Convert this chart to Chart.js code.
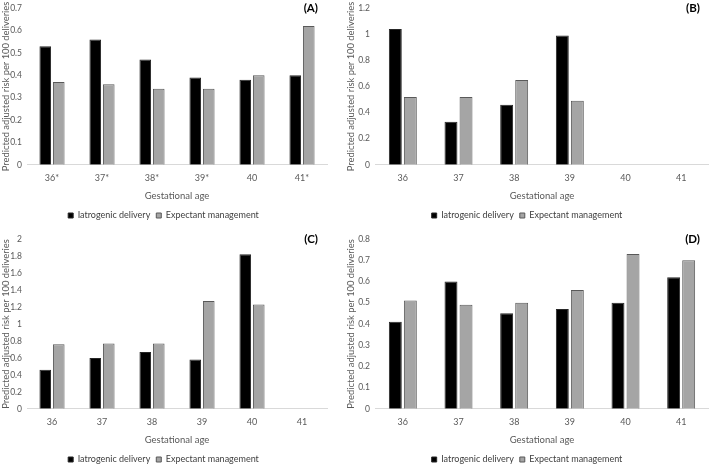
<!DOCTYPE html>
<html>
<head>
<meta charset="utf-8">
<script src="https://cdn.jsdelivr.net/npm/chart.js@4.4.1/dist/chart.umd.min.js"></script>
<style>
  body { margin: 0; background: #fff; overflow: hidden; }
  .panel { position: absolute; }
</style>
</head>
<body>
<div class="panel" style="left:0;top:-2px;width:345px;height:232px"><canvas id="chartA"></canvas></div>
<div class="panel" style="left:345px;top:-2px;width:364px;height:232px"><canvas id="chartB"></canvas></div>
<div class="panel" style="left:0;top:229px;width:345px;height:245px"><canvas id="chartC"></canvas></div>
<div class="panel" style="left:345px;top:229px;width:364px;height:245px"><canvas id="chartD"></canvas></div>
<script>
const labelsA = ["36*", "37*", "38*", "39*", "40", "41*"];
const labelsOther = ["36", "37", "38", "39", "40", "41"];

const iatrogenicA = [0.53, 0.56, 0.47, 0.39, 0.38, 0.40];
const expectantA = [0.37, 0.36, 0.34, 0.34, 0.40, 0.62];

const iatrogenicB = [1.04, 0.33, 0.46, 0.99, null, null];
const expectantB = [0.52, 0.52, 0.65, 0.49, null, null];

const iatrogenicC = [0.46, 0.60, 0.67, 0.58, 1.82, null];
const expectantC = [0.76, 0.77, 0.77, 1.27, 1.23, null];

const iatrogenicD = [0.41, 0.60, 0.45, 0.47, 0.50, 0.62];
const expectantD = [0.51, 0.49, 0.50, 0.56, 0.73, 0.70];

const fontFamily = "Lato, 'Open Sans', sans-serif";
const textColor = "#595959";

// draws the (A)/(B)... tag in the top-right corner
const panelTag = {
  id: "panelTag",
  afterDraw(chart, args, opts) {
    const ctx = chart.ctx;
    ctx.save();
    ctx.font = "bold 11.5px " + fontFamily;
    ctx.fillStyle = "#000";
    ctx.textAlign = "right";
    ctx.textBaseline = "middle";
    ctx.fillText(opts.text, chart.chartArea.right - 9, 10);
    ctx.restore();
  },
};

function plotPanel(id, labels, iatrogenic, expectant, yMax, yStep, tag, axisWidth, padRight) {
  let ctx = document.getElementById(id).getContext("2d");

  new Chart(ctx, {
    type: "bar",
    data: {
      labels: labels,
      datasets: [
        {
          label: "Iatrogenic delivery",
          data: iatrogenic,
          backgroundColor: "#000000",
          borderColor: "#262626",
          borderWidth: 1,
          categoryPercentage: 0.54,
          barPercentage: 0.86,
        },
        {
          label: "Expectant management",
          data: expectant,
          backgroundColor: "#a5a5a5",
          borderColor: "#595959",
          borderWidth: 1,
          categoryPercentage: 0.54,
          barPercentage: 0.86,
        },
      ],
    },
    options: {
      responsive: true,
      maintainAspectRatio: false,
      animation: false,
      layout: {
        padding: { top: 0, right: padRight, bottom: 0, left: 0 },
      },
      plugins: {
        panelTag: { text: tag },
        tooltip: { enabled: false },
        legend: {
          position: "bottom",
          labels: {
            boxWidth: 5,
            boxHeight: 5,
            padding: 6,
            color: "#404040",
            font: { family: fontFamily, size: 9 },
          },
        },
      },
      scales: {
        x: {
          grid: { display: false, drawTicks: false },
          border: { color: "#d9d9d9", width: 1 },
          ticks: {
            color: textColor,
            font: { family: fontFamily, size: 9 },
            padding: 8,
          },
          title: {
            display: true,
            text: "Gestational age",
            color: textColor,
            font: { family: fontFamily, size: 9.5 },
            padding: { top: -1.5, bottom: 3.5 },
          },
        },
        y: {
          min: 0,
          max: yMax,
          grid: { display: false, drawTicks: false },
          border: { display: false },
          ticks: {
            stepSize: yStep,
            color: textColor,
            font: { family: fontFamily, size: 8.5 },
            padding: 5,
            callback: (value) => String(+value.toFixed(2)),
          },
          title: {
            display: true,
            text: "Predicted adjusted risk per 100 deliveries",
            color: textColor,
            font: { family: fontFamily, size: 9.4 },
            padding: 0,
          },
          afterFit: function (scale) {
            scale.width = axisWidth;
          },
        },
      },
    },
    plugins: [panelTag],
  });
}

plotPanel("chartA", labelsA, iatrogenicA, expectantA, 0.7, 0.1, "(A)", 27, 18);
plotPanel("chartB", labelsOther, iatrogenicB, expectantB, 1.2, 0.2, "(B)", 30, 0);
plotPanel("chartC", labelsOther, iatrogenicC, expectantC, 2, 0.2, "(C)", 27, 18);
plotPanel("chartD", labelsOther, iatrogenicD, expectantD, 0.8, 0.1, "(D)", 30, 0);
</script>
</body>
</html>
